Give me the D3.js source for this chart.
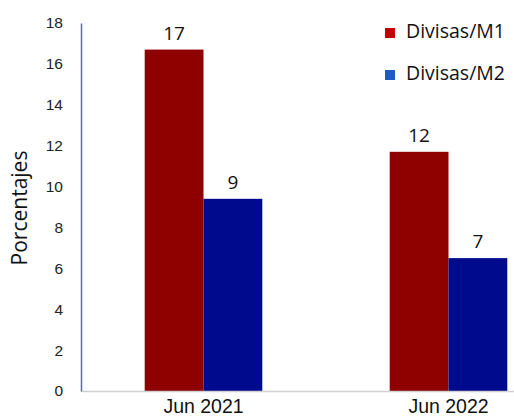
<!doctype html>
<html>
<head>
<meta charset="utf-8">
<script src="https://cdn.jsdelivr.net/npm/d3@7"></script>
<style>
  body { margin: 0; background: #fff; }
  .chart { font-family: 'Open Sans', sans-serif; }
  #y-axis .tick text { font-size: 15.5px; fill: #222; }
  #x-axis .tick text { font-size: 19.5px; fill: #111; }
</style>
</head>
<body>
<svg class="chart"></svg>
<script>
  const periods = ["Jun 2021", "Jun 2022"]
  const seriesNames = ["Divisas/M1", "Divisas/M2"]
  const m1 = [16.7, 11.7]
  const m2 = [9.4, 6.5]
  const labelsM1 = ["17", "12"]
  const labelsM2 = ["9", "7"]
  const yTicks = [0, 2, 4, 6, 8, 10, 12, 14, 16, 18]

  const barColors = ["#8f0000", "#000a8c"]
  const legendColors = ["#c00000", "#1f5cbf"]

  const W = 514, H = 418
  const x0 = 81, yBase = 391, yTop = 23

  const svg = d3.select(".chart").attr("width", W).attr("height", H)

  const xScale = d3.scaleBand()
    .domain(periods)
    .range([x0, x0 + 490])
    .paddingInner(0.52)
    .paddingOuter(0.26)

  const xSub = d3.scaleBand()
    .domain(seriesNames)
    .range([0, xScale.bandwidth()])

  const yScale = d3.scaleLinear()
    .domain([0, 18])
    .range([yBase, yTop])

  const rows = periods.map((p, i) => ({
    period: p,
    values: [
      { name: seriesNames[0], v: m1[i], label: labelsM1[i], c: barColors[0] },
      { name: seriesNames[1], v: m2[i], label: labelsM2[i], c: barColors[1] }
    ]
  }))

  // bars
  const groups = svg.selectAll(".group")
    .data(rows)
    .enter().append("g")
      .attr("class", "group")
      .attr("transform", d => "translate(" + xScale(d.period) + ",0)")

  groups.selectAll("rect")
    .data(d => d.values)
    .enter().append("rect")
      .attr("x", d => xSub(d.name))
      .attr("y", d => yScale(d.v))
      .attr("width", xSub.bandwidth())
      .attr("height", d => yBase - yScale(d.v))
      .attr("fill", d => d.c)

  groups.selectAll(".val")
    .data(d => d.values)
    .enter().append("text")
      .attr("class", "val")
      .attr("x", d => xSub(d.name) + xSub.bandwidth() / 2)
      .attr("y", d => yScale(d.v) - 10)
      .attr("text-anchor", "middle")
      .style("font-size", "19px")
      .style("fill", "#111")
      .text(d => d.label)

  // x axis
  svg.append("g")
    .attr("id", "x-axis")
    .attr("transform", "translate(0," + yBase + ")")
    .call(d3.axisBottom(xScale).tickSize(0).tickPadding(8))
    .call(g => g.select(".domain").attr("stroke", "#d0d0d0").attr("stroke-width", 1.5))

  // y axis
  svg.append("g")
    .attr("id", "y-axis")
    .attr("transform", "translate(" + x0 + ",0)")
    .call(d3.axisLeft(yScale).tickValues(yTicks).tickSize(0).tickPadding(18))
    .call(g => g.select(".domain").attr("stroke", "#4472c4").attr("stroke-width", 1.5))

  svg.append("text")
    .attr("transform", "translate(27,208) rotate(-90)")
    .attr("text-anchor", "middle")
    .style("font-size", "21px")
    .style("fill", "#111")
    .text("Porcentajes")

  // legend
  const legend = svg.append("g").attr("transform", "translate(385,24)")
  const items = legend.selectAll(".item")
    .data(seriesNames)
    .enter().append("g")
      .attr("class", "item")
      .attr("transform", (d, i) => "translate(0," + i * 42 + ")")
  items.append("rect")
    .attr("width", 10).attr("height", 10).attr("y", 4)
    .attr("fill", (d, i) => legendColors[i])
  items.append("text")
    .attr("x", 21).attr("y", 14)
    .style("font-size", "19.5px")
    .style("fill", "#111")
    .text(d => d)
</script>
</body>
</html>
